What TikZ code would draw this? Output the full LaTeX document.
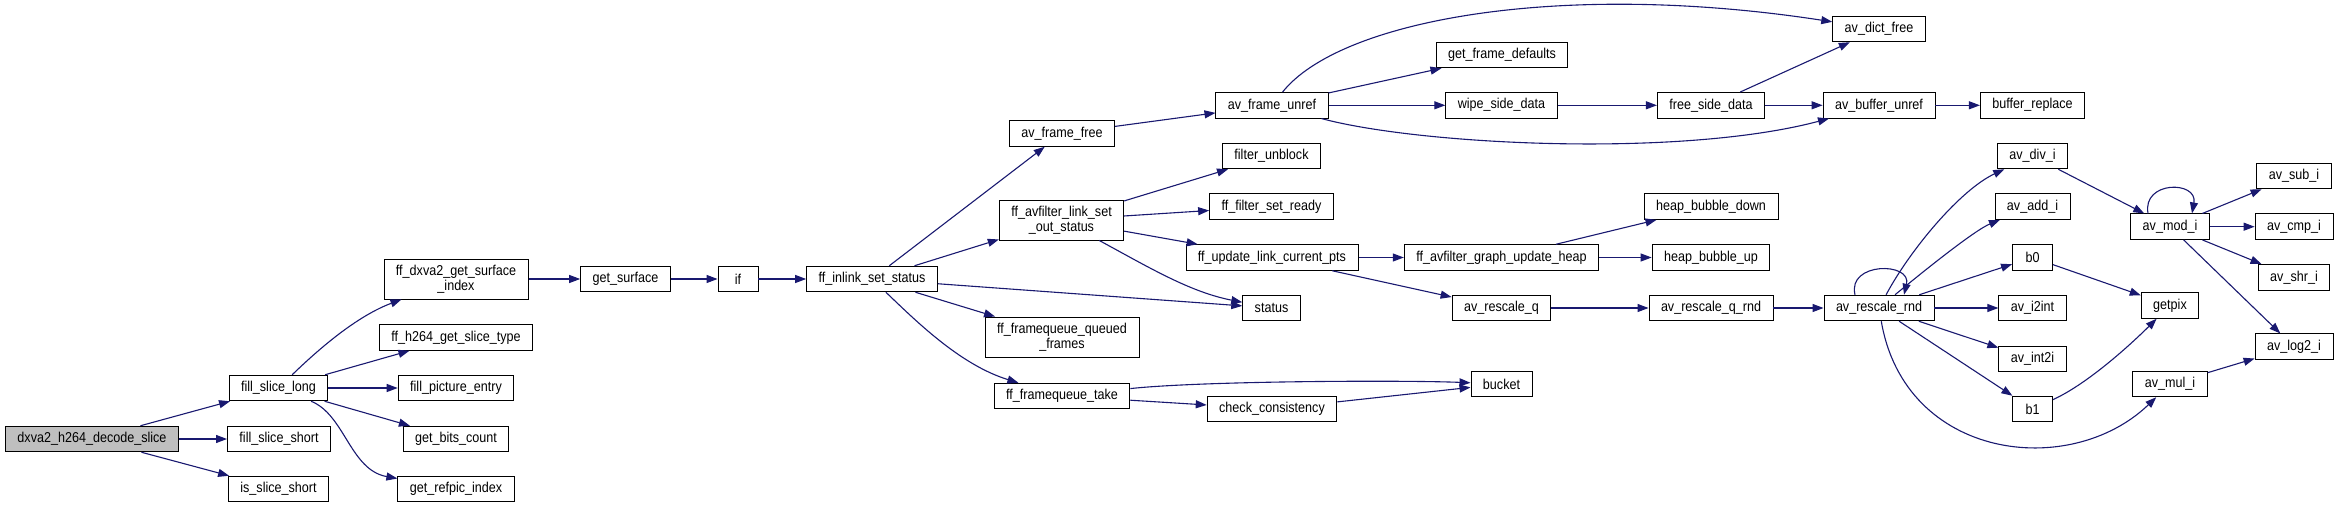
\documentclass[tikz,border=0pt]{standalone}
\usepackage{fontspec}
\setmainfont{Liberation Sans}[FakeStretch=0.88]
\usetikzlibrary{arrows.meta}
\definecolor{edgeblue}{HTML}{191970}
\definecolor{rootgray}{HTML}{BFBFBF}
\begin{document}
\begin{tikzpicture}[x=1pt, y=-1pt,
    fn/.style={draw, line width=0.9pt, fill=white, inner xsep=12pt, inner ysep=2pt,
      minimum width=40pt, minimum height=25.6pt, align=center,
      font=\fontsize{14.3}{14.7}\selectfont},
    call/.style={draw=edgeblue, line width=1.1pt, -{Triangle[length=11pt,width=8pt]}}]
  \useasboundingbox (0,0) rectangle (2337,508);
  % first columns
  \node[fn, fill=rootgray] (root) at (92,439) {dxva2\_h264\_decode\_slice};
  \node[fn] (fsl) at (278.5,388) {fill\_slice\_long};
  \node[fn] (fss) at (279,439) {fill\_slice\_short};
  \node[fn] (iss) at (278.5,489) {is\_slice\_short};
  \node[fn, minimum height=40pt] (gsi) at (456,279) {ff\_dxva2\_get\_surface\\\_index};
  \node[fn] (gst) at (456,337.5) {ff\_h264\_get\_slice\_type};
  \node[fn] (fpe) at (456,388) {fill\_picture\_entry};
  \node[fn] (gbc) at (456,439) {get\_bits\_count};
  \node[fn] (gri) at (456,489) {get\_refpic\_index};
  \node[fn] (gsf) at (625.5,279) {get\_surface};
  \node[fn] (cond) at (738,279) {if};
  \node[fn] (inl) at (872,279) {ff\_inlink\_set\_status};
  % filter side
  \node[fn] (aff) at (1062,133.5) {av\_frame\_free};
  \node[fn, minimum height=40pt] (los) at (1061.5,220) {ff\_avfilter\_link\_set\\\_out\_status};
  \node[fn, minimum height=40pt] (fqq) at (1062,337) {ff\_framequeue\_queued\\\_frames};
  \node[fn] (fqt) at (1062,396) {ff\_framequeue\_take};
  \node[fn] (afu) at (1272,105.3) {av\_frame\_unref};
  \node[fn] (fub) at (1271.5,156) {filter\_unblock};
  \node[fn] (fsr) at (1271.5,206.5) {ff\_filter\_set\_ready};
  \node[fn] (ulc) at (1272,257.5) {ff\_update\_link\_current\_pts};
  \node[fn] (sts) at (1271.5,308) {status};
  \node[fn] (chk) at (1272,409) {check\_consistency};
  \node[fn] (gfd) at (1502,55) {get\_frame\_defaults};
  \node[fn] (wsd) at (1501.5,105.3) {wipe\_side\_data};
  \node[fn] (guh) at (1501.5,257.5) {ff\_avfilter\_graph\_update\_heap};
  \node[fn] (rsq) at (1501.5,308) {av\_rescale\_q};
  \node[fn] (bkt) at (1501.5,384) {bucket};
  \node[fn] (adf) at (1879,29) {av\_dict\_free};
  \node[fn] (fsd) at (1711,105.3) {free\_side\_data};
  \node[fn] (abu) at (1879,105.3) {av\_buffer\_unref};
  \node[fn] (brp) at (2032.5,105.3) {buffer\_replace};
  \node[fn] (hbd) at (1711,206.6) {heap\_bubble\_down};
  \node[fn] (hbu) at (1711,257.5) {heap\_bubble\_up};
  \node[fn] (rqr) at (1711,308) {av\_rescale\_q\_rnd};
  % integer math
  \node[fn] (rnd) at (1879,308) {av\_rescale\_rnd};
  \node[fn] (div) at (2032.5,156) {av\_div\_i};
  \node[fn] (add) at (2032.5,206.6) {av\_add\_i};
  \node[fn] (bz) at (2032.5,257.5) {b0};
  \node[fn] (i2n) at (2032.5,308) {av\_i2int};
  \node[fn] (n2i) at (2032.5,359) {av\_int2i};
  \node[fn] (bo) at (2032.5,409) {b1};
  \node[fn] (gpx) at (2170,305.5) {getpix};
  \node[fn] (mod) at (2170,226.7) {av\_mod\_i};
  \node[fn] (mul) at (2170,384) {av\_mul\_i};
  \node[fn] (sub) at (2294,176) {av\_sub\_i};
  \node[fn] (cmp) at (2294,226.7) {av\_cmp\_i};
  \node[fn] (shr) at (2294,277.3) {av\_shr\_i};
  \node[fn] (lg2) at (2294,346.7) {av\_log2\_i};
  % straight calls
  \foreach \a/\b in {root/fsl, root/fss, root/iss, fsl/gst, fsl/fpe, fsl/gbc,
      gsi/gsf, gsf/cond, cond/inl, inl/aff, inl/los, inl/sts, inl/fqq,
      aff/afu, afu/gfd, afu/wsd, wsd/fsd, fsd/adf, fsd/abu, abu/brp,
      los/fub, los/fsr, los/ulc, ulc/guh, ulc/rsq, guh/hbd, guh/hbu,
      rsq/rqr, rqr/rnd, rnd/bz, rnd/i2n, rnd/n2i, rnd/bo, div/mod,
      mod/sub, mod/cmp, mod/shr, mod/lg2, bz/gpx, mul/lg2, fqt/chk, chk/bkt}
    \draw[call] (\a) -- (\b);
  % bent calls
  \draw[call] (fsl) .. controls (325,343) and (360,315) .. (gsi);
  \draw[call] (fsl) .. controls (345,415) and (350,470) .. (gri);
  \draw[call] (inl) .. controls (915,320) and (960,365) .. (fqt);
  \draw[call] (afu) .. controls (1340,20) and (1560,-20) .. (adf);
  \draw[call] (afu) .. controls (1420,145) and (1680,158) .. (abu);
  \draw[call] (los) .. controls (1150,268) and (1190,292) .. (sts);
  \draw[call] (fqt) .. controls (1200,381) and (1400,380) .. (bkt);
  \draw[call] (rnd) .. controls (1910,250) and (1960,190) .. (div);
  \draw[call] (rnd) .. controls (1925,270) and (1975,230) .. (add);
  \draw[call] (rnd) .. controls (1905,460) and (2070,480) .. (mul);
  \draw[call] (bo) .. controls (2085,385) and (2125,350) .. (gpx);
  % recursion
  \draw[call] ([xshift=-24pt]rnd.north) .. controls +(-8,-33) and +(8,-33) .. ([xshift=25pt]rnd.north);
  \draw[call] ([xshift=-22pt]mod.north) .. controls +(-6,-33) and +(6,-33) .. ([xshift=22pt]mod.north);
\end{tikzpicture}
\end{document}
